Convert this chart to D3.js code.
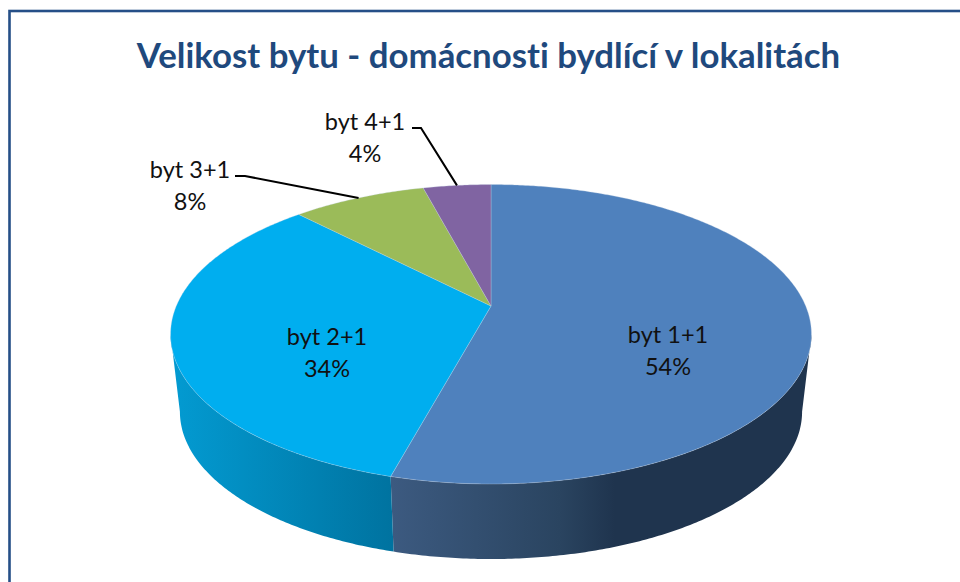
<!DOCTYPE html>
<html>
<head>
<meta charset="utf-8">
<script src="https://cdnjs.cloudflare.com/ajax/libs/d3/7.8.5/d3.min.js"></script>
<style>
    html, body { margin: 0; padding: 0; background: #fff; overflow: hidden; }
    svg { display: block; }
    text { font-family: Lato, "Open Sans", sans-serif; font-variant-ligatures: none; }
</style>
</head>
<body>
<div id="draw_here"></div>
<script type="text/javascript">
    // Data
    title = "Velikost bytu - domácnosti bydlící v lokalitách"
    categories = ["byt 1+1", "byt 2+1", "byt 3+1", "byt 4+1"]
    shares = [54.2, 33.6, 8.1, 4.1]

    // Layout
    canvas = ({width: 960, height: 582})
    colors = ["#4f81bd", "#00aeef", "#9bbb59", "#8064a2"]
    label_at = [[668, 343], [327, 345], [190, 178], [365, 130]]
    leader_from = [null, null, [[235, 176], [245, 176]], [[412, 128], [421, 128]]]

    // Perspective disc, top face and base
    cx = 491
    top_disc = ({y: 306, R: 314.7, a: 144.4, k: -0.1887})
    base_disc = ({y: 384, R: 305.5, a: 142, k: -0.1887})
    // angle where the disc is widest, the wall's silhouette runs from here
    widest = Math.acos(top_disc.k)

    function project(disc, angle) {
        const u = Math.sin(angle)
        const v = -Math.cos(angle)
        const w = 1 + disc.k * v
        return [cx + disc.R * u / w, disc.y + disc.a * v / w]
    }

    var svg = d3.select("#draw_here").append("svg")
        .attr("width", canvas.width)
        .attr("height", canvas.height)
        .attr("viewBox", [0, 0, canvas.width, canvas.height])

    // Chart frame, runs off the right and bottom of the picture
    svg.append("rect")
        .attr("x", 9.5)
        .attr("y", 11)
        .attr("width", canvas.width + 20)
        .attr("height", canvas.height + 20)
        .attr("fill", "#fff")
        .attr("stroke", "#254f87")
        .attr("stroke-width", 2.6)

    svg.append("text")
        .attr("x", 488.5)
        .attr("y", 68)
        .attr("text-anchor", "middle")
        .attr("font-size", 34.8)
        .attr("font-weight", 700)
        .attr("fill", "#1f497d")
        .text(title)

    arcs = d3.pie().sort(null).startAngle(0).endAngle(2 * Math.PI)(shares)
    line = d3.line()

    function rim(disc, a0, a1) {
        const n = Math.max(2, Math.ceil((a1 - a0) / 0.01))
        return d3.range(n + 1).map(i => project(disc, a0 + (a1 - a0) * i / n))
    }

    // Side walls
    var defs = svg.append("defs")
    wall_stops = [
        [[392, "#3c5a80"], [560, "#2a4460"], [615, "#1f344e"], [811, "#1f344e"]],
        [[170, "#039bd2"], [392, "#0073a0"]]
    ]
    wall_stops.forEach((stops, i) => {
        const x = d3.scaleLinear().domain([stops[0][0], stops[stops.length - 1][0]]).range([0, 1])
        defs.append("linearGradient")
            .attr("id", "wall_" + i)
            .attr("gradientUnits", "userSpaceOnUse")
            .attr("x1", stops[0][0]).attr("y1", 0)
            .attr("x2", stops[stops.length - 1][0]).attr("y2", 0)
            .selectAll("stop")
            .data(stops)
            .join("stop")
            .attr("offset", d => x(d[0]))
            .attr("stop-color", d => d[1])
    })

    // Only the first two slices show a wall
    svg.append("g")
        .selectAll("path")
        .data(arcs.slice(0, 2))
        .join("path")
        .attr("fill", (d, i) => `url(#wall_${i})`)
        .attr("d", d => {
            const a0 = Math.max(d.startAngle, widest)
            const a1 = Math.min(d.endAngle, 2 * Math.PI - widest)
            return line(rim(top_disc, a0, a1).concat(rim(base_disc, a0, a1).reverse())) + "Z"
        })

    // Top face
    svg.append("g")
        .selectAll("path")
        .data(arcs)
        .join("path")
        .attr("fill", (d, i) => colors[i])
        .attr("stroke", "#c9d6e6")
        .attr("stroke-width", 0.6)
        .attr("stroke-opacity", 0.5)
        .attr("stroke-linejoin", "round")
        .attr("d", d => line([[cx, top_disc.y]].concat(rim(top_disc, d.startAngle, d.endAngle))) + "Z")

    // Leader lines to the middle of the rim of the small slices
    svg.append("g")
        .selectAll("path")
        .data(arcs.filter(d => leader_from[d.index]))
        .join("path")
        .attr("fill", "none")
        .attr("stroke", "#000")
        .attr("stroke-width", 2)
        .attr("d", d => line(leader_from[d.index].concat([project(top_disc, (d.startAngle + d.endAngle) / 2)])))

    // Labels
    var labels = svg.append("g")
        .attr("text-anchor", "middle")
        .attr("font-size", 23.5)
        .attr("fill", "#111")
        .selectAll("text")
        .data(categories)
        .join("text")
    labels.append("tspan")
        .attr("x", (d, i) => label_at[i][0])
        .attr("y", (d, i) => label_at[i][1])
        .text(d => d)
    labels.append("tspan")
        .attr("x", (d, i) => label_at[i][0])
        .attr("y", (d, i) => label_at[i][1] + 32)
        .text((d, i) => Math.round(shares[i]) + "%")
</script>
</body>
</html>
